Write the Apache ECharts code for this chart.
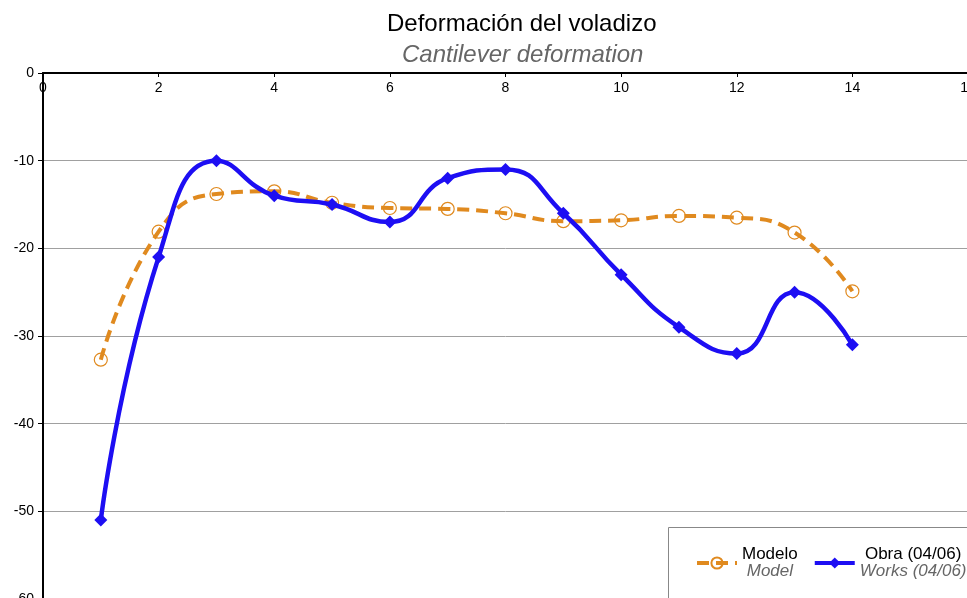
<!DOCTYPE html>
<html>
<head>
<meta charset="utf-8">
<script src="https://cdn.jsdelivr.net/npm/echarts@6/dist/echarts.min.js"></script>
<style>
  html, body { margin: 0; padding: 0; background: #fff; }
  #chart { width: 967px; height: 598px; }
</style>
</head>
<body>
<div id="chart"></div>
<script>
  // puntos de medida (eje x)
  const xPoints = [1, 2, 3, 4, 5, 6, 7, 8, 9, 10, 11, 12, 13, 14];
  // deformación del modelo
  const modelo = [-32.7, -18.1, -13.8, -13.5, -14.8, -15.4, -15.5, -16.0, -16.9, -16.8, -16.3, -16.5, -18.2, -24.9];
  // deformación medida en obra
  const obra = [-51, -21, -10, -14, -15, -17, -12, -11, -16, -23, -29, -32, -25, -31];
  const seriesNames = ['Modelo', 'Obra (04/06)'];
  const seriesSub = ['Model', 'Works (04/06)'];

  const orange = '#e08a1f';
  const blue = '#1d0ef3';

  const myChart = echarts.init(document.getElementById('chart'));

  const option = {
    backgroundColor: '#fff',
    animation: false,
    title: [{
      text: 'Deformación del voladizo',
      left: 382,
      top: 7,
      textStyle: { fontFamily: 'Liberation Sans', fontSize: 24, fontWeight: 'normal', color: '#000' }
    }, {
      text: 'Cantilever deformation',
      left: 397,
      top: 38,
      textStyle: { fontFamily: 'Liberation Sans', fontSize: 24, fontWeight: 'normal', fontStyle: 'italic', color: '#666' }
    }],
    grid: {
      left: 43,
      top: 73,
      right: -1,
      bottom: -1,
      outerBoundsMode: 'none',
      containLabel: false
    },
    // recuadro de la leyenda (se sale del lienzo como en el original)
    graphic: [{
      type: 'rect',
      left: 668,
      top: 527,
      z: 10,
      shape: { width: 320, height: 90 },
      style: { fill: '#fff', stroke: '#888', lineWidth: 1 }
    }],
    legend: {
      data: seriesNames,
      left: 695,
      top: 546,
      width: 320,
      padding: 0,
      z: 20,
      itemWidth: 40,
      itemHeight: 14,
      itemGap: 15,
      lineStyle: { width: 4 },
      formatter: function (name) {
        const i = seriesNames.indexOf(name);
        return '{a|' + name + '}\n{b|' + seriesSub[i] + '}';
      },
      textStyle: {
        rich: {
          a: { fontFamily: 'Liberation Sans', fontSize: 17, color: '#000', lineHeight: 17, align: 'center' },
          b: { fontFamily: 'Liberation Sans', fontSize: 17, fontStyle: 'italic', color: '#666', lineHeight: 17, align: 'center' }
        }
      }
    },
    xAxis: {
      type: 'value',
      position: 'top',
      min: 0,
      max: 16,
      interval: 2,
      axisLine: { lineStyle: { color: '#000', width: 2 } },
      axisTick: { show: true, inside: true, length: 4, lineStyle: { color: '#000', width: 1 } },
      axisLabel: {
        inside: true,
        margin: 8,
        fontFamily: 'Liberation Sans',
        fontSize: 14,
        color: '#000'
      },
      splitLine: { show: false }
    },
    yAxis: {
      type: 'value',
      min: -60,
      max: 0,
      interval: 10,
      axisLine: { show: true, lineStyle: { color: '#000', width: 2 } },
      axisTick: { show: true, length: 5, lineStyle: { color: '#000', width: 1 } },
      axisLabel: {
        margin: 9,
        fontFamily: 'Liberation Sans',
        fontSize: 14,
        color: '#000'
      },
      splitLine: { show: true, lineStyle: { color: '#a0a0a0', width: 1 } }
    },
    series: [{
      name: seriesNames[0],
      type: 'line',
      smooth: 0.5,
      data: xPoints.map((x, i) => [x, modelo[i]]),
      symbol: 'circle',
      symbolSize: 13,
      lineStyle: { color: orange, width: 4, type: [12, 7] },
      itemStyle: { color: 'rgba(255,255,255,0)', borderColor: orange, borderWidth: 1.2 },
      z: 2
    }, {
      name: seriesNames[1],
      type: 'line',
      smooth: 0.5,
      data: xPoints.map((x, i) => [x, obra[i]]),
      symbol: 'diamond',
      symbolSize: 13,
      lineStyle: { color: blue, width: 4.5 },
      itemStyle: { color: blue },
      z: 3
    }]
  };

  myChart.setOption(option);
</script>
</body>
</html>
